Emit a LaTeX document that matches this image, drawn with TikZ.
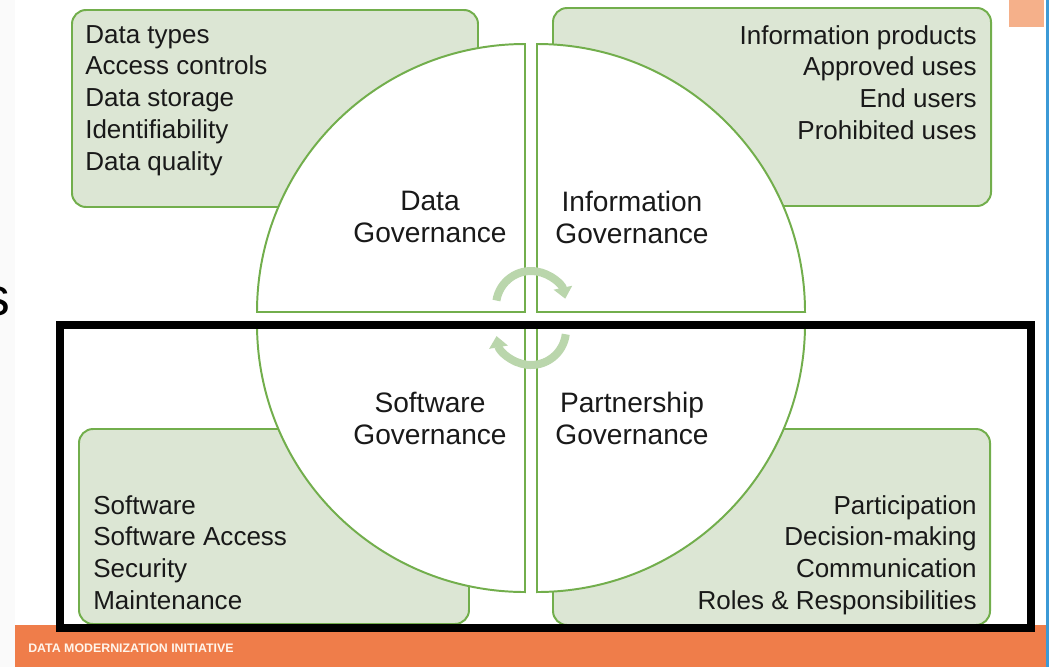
\documentclass[tikz,border=0pt]{standalone}
\usepackage{fontspec}
\setmainfont{Liberation Sans}
\usetikzlibrary{arrows.meta}

\definecolor{leafgreen}{HTML}{72AE4C}
\definecolor{palegreen}{HTML}{DCE6D4}
\definecolor{cyclegreen}{HTML}{BAD6AC}
\definecolor{bandorange}{HTML}{EF7D4A}
\definecolor{tagorange}{HTML}{F5B08A}
\definecolor{edgeblue}{HTML}{3C9AD6}

\tikzset{
  topicbox/.style={draw=leafgreen, fill=palegreen, line width=1.4pt, rounded corners=10pt},
  quarter/.style={draw=leafgreen, fill=white, line width=1.4pt},
  itemlist/.style={inner sep=0pt, text=black!90, font=\fontsize{18.5}{22.6}\selectfont},
  areaname/.style={inner sep=0pt, align=center, text=black!90, font=\fontsize{20}{22.6}\selectfont},
  turnarrow/.style={draw=cyclegreen, line width=5.7pt, -{Triangle[width=13pt,length=8pt]}}
}

\begin{document}
\begin{tikzpicture}[x=0.025cm, y=-0.025cm]
    \useasboundingbox (0,0) rectangle (1049,667);
    \fill[black!2] (0,0) rectangle (15,667);
    \node[font=\fontsize{38}{40}\selectfont, anchor=base east, inner sep=0pt] (cutword) at (10,315) {s};

    % the four topic boxes
    \draw[topicbox] (72,10) rectangle (478,207);
    \draw[topicbox] (553,8) rectangle (991,206);
    \draw[topicbox] (79,429) rectangle (469,624);
    \draw[topicbox] (553,429) rectangle (990,625);

    % quarters of the wheel
    \draw[quarter] (525,312) -- (257,312) arc[start angle=180, end angle=270, radius=268] -- cycle;
    \draw[quarter] (537,312) -- (537,44) arc[start angle=270, end angle=360, radius=268] -- cycle;
    \draw[quarter] (537,324) -- (805,324) arc[start angle=0, end angle=90, radius=268] -- cycle;
    \draw[quarter] (525,324) -- (525,592) arc[start angle=90, end angle=180, radius=268] -- cycle;

    \node[areaname, anchor=north] (datagov) at (430,191) {Data\\Governance};
    \node[areaname, anchor=north] (infogov) at (632,191) {Information\\Governance};
    \node[areaname, anchor=north] (softgov) at (430,392) {Software\\Governance};
    \node[areaname, anchor=north] (partgov) at (632,392) {Partnership\\Governance};

    \node[itemlist, align=left, anchor=north west] (datalist) at (85,25)
        {Data types\\Access controls\\Data storage\\Identifiability\\Data quality};
    \node[itemlist, align=right, anchor=north east] (infolist) at (977,25)
        {Information products\\Approved uses\\End users\\Prohibited uses};
    \node[itemlist, align=left, anchor=north west] (softlist) at (93,495)
        {Software\\Software Access\\Security\\Maintenance};
    \node[itemlist, align=right, anchor=north east] (partlist) at (977,495)
        {Participation\\Decision-making\\Communication\\Roles \& Responsibilities};

    % turning arrows in the middle
    \draw[turnarrow] (531,306) ++(189:35) arc[start angle=189, end angle=348, radius=35];
    \draw[turnarrow] (531,330) ++(7:35) arc[start angle=7, end angle=170, radius=35];

    % footer band and page edge
    \fill[bandorange] (15,625) rectangle (1046,667);
    \fill[tagorange] (1009,0) rectangle (1044,27);
    \fill[edgeblue] (1046,0) rectangle (1049,667);
    \draw[line width=5.7pt] (60,325) rectangle (1031,628);
    \node[anchor=west, inner sep=0pt, text=white!92!orange, font=\bfseries\fontsize{8.8}{10}\selectfont] (footer) at (28,648) {DATA MODERNIZATION INITIATIVE};
\end{tikzpicture}
\end{document}
